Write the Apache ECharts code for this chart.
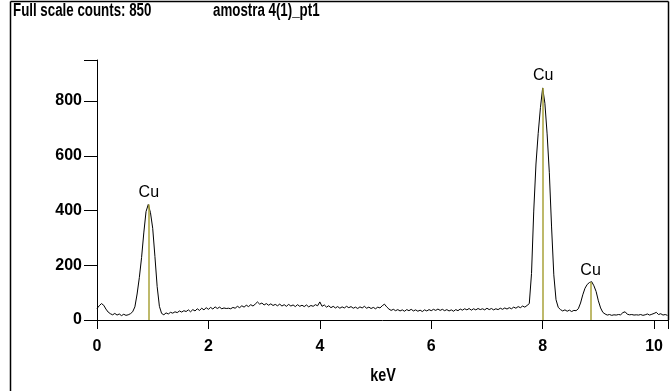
<!DOCTYPE html>
<html>
<head>
<meta charset="utf-8">
<script src="https://cdn.jsdelivr.net/npm/echarts@6/dist/echarts.min.js"></script>
<style>
  html, body { margin: 0; padding: 0; background: #fff; }
  #chart { width: 671px; height: 391px; }
</style>
</head>
<body>
<div id="chart"></div>
<script>
// spectrum counts, one channel every 0.04 keV starting at 0
const channelStep = 0.04;
const counts = [
  42, 52, 60, 54, 40, 29, 23, 19, 24, 18, 22, 16, 21, 17, 19, 23,
  30, 48, 95, 155, 228, 318, 396, 422, 392, 335, 232, 122, 50, 24,
  19, 26, 22, 28, 25, 30, 27, 33, 29, 34, 31, 37, 30, 38, 33, 41,
  35, 43, 37, 45, 39, 46, 40, 48, 42, 47, 41, 44, 42, 43, 41, 46,
  43, 50, 45, 52, 47, 54, 49, 56, 51, 58, 66, 58, 62, 55, 60, 54,
  59, 53, 57, 52, 58, 51, 56, 50, 57, 51, 55, 49, 56, 50, 54, 49,
  55, 48, 53, 50, 56, 52, 66, 50, 55, 47, 52, 45, 50, 44, 49, 43,
  48, 44, 50, 45, 49, 43, 47, 42, 48, 44, 50, 43, 47, 42, 46, 41,
  47, 44, 52, 58, 48, 40, 35, 39, 34, 38, 33, 37, 32, 38, 34, 39,
  33, 37, 32, 36, 31, 37, 33, 38, 34, 39, 35, 40, 35, 39, 34, 38,
  33, 37, 32, 38, 34, 40, 36, 41, 37, 42, 36, 41, 37, 42, 38, 41,
  37, 43, 38, 42, 37, 41, 38, 43, 39, 44, 40, 45, 41, 47, 43, 49,
  45, 51, 47, 53, 60, 170, 398, 570, 682, 776, 848, 792, 680, 538, 340, 165,
  74, 46, 38, 33, 37, 32, 36, 31, 35, 34, 41, 62, 92, 116, 130, 137,
  140, 125, 104, 70, 44, 28, 22, 18, 20, 17, 19, 18, 20, 19, 27, 30,
  21, 19, 20, 18, 19, 18, 20, 17, 19, 22, 18, 21, 24, 28, 20, 23,
  18, 20, 17
];

// identified lines
const lineNames = ["Cu", "Cu", "Cu"];
const lineKeV = [0.93, 8.01, 8.86];
const lineTop = [422, 848, 138];

const yTicks = [0, 200, 400, 600, 800];
const xTicks = [0, 2, 4, 6, 8, 10];

const sans = "'Liberation Sans', Arial, sans-serif";

const chart = echarts.init(document.getElementById("chart"), null, { renderer: "canvas" });

const spectrum = counts.map((c, i) => [+(i * channelStep).toFixed(2), c]);

const option = {
  backgroundColor: "#fff",
  animation: false,
  grid: { left: 97, right: 0, top: 60, bottom: 71 },
  xAxis: {
    type: "value",
    min: 0,
    max: 10.25,
    interval: 2,
    axisLine: { lineStyle: { color: "#000", width: 1 } },
    axisTick: { length: 9, lineStyle: { color: "#000" } },
    splitLine: { show: false },
    axisLabel: {
      color: "#000",
      fontFamily: sans,
      fontWeight: "bold",
      fontSize: 16,
      margin: 19,
      formatter: (v) => (xTicks.includes(v) ? String(v) : "")
    }
  },
  yAxis: {
    type: "value",
    min: 0,
    max: 950,
    interval: 200,
    axisLine: { show: true, lineStyle: { color: "#000", width: 1 } },
    axisTick: { show: true, length: 13, lineStyle: { color: "#000" } },
    splitLine: { show: false },
    axisLabel: {
      color: "#000",
      fontFamily: sans,
      fontWeight: "bold",
      fontSize: 16,
      margin: 15,
      formatter: (v) => (yTicks.includes(v) ? String(v) : "")
    }
  },
  graphic: [
    { type: "line", shape: { x1: 10.5, y1: 1.5, x2: 668.5, y2: 1.5 }, style: { stroke: "#000", lineWidth: 1.5 } },
    { type: "line", shape: { x1: 10.5, y1: 1.5, x2: 10.5, y2: 391 }, style: { stroke: "#000", lineWidth: 1.5 } },
    { type: "line", shape: { x1: 668.5, y1: 1.5, x2: 668.5, y2: 320 }, style: { stroke: "#000", lineWidth: 1.5 } },
    {
      type: "text", x: 13, y: 2, scaleX: 0.74,
      style: { text: "Full scale counts: 850", fill: "#000", font: "bold 18px " + sans }
    },
    {
      type: "text", x: 213, y: 2, scaleX: 0.74,
      style: { text: "amostra 4(1)_pt1", fill: "#000", font: "bold 18px " + sans }
    },
    {
      type: "text", x: 383, y: 376, scaleX: 0.8,
      style: { text: "keV", fill: "#000", font: "bold 18px " + sans, align: "center", verticalAlign: "middle" }
    }
  ],
  series: [
    {
      type: "line",
      data: spectrum,
      showSymbol: false,
      symbol: "none",
      lineStyle: { color: "#000", width: 1 },
      z: 3,
      markLine: {
        silent: true,
        symbol: ["none", "none"],
        lineStyle: { color: "#a8a23a", width: 1.5, type: "solid" },
        label: {
          show: true,
          position: "end",
          distance: 4,
          color: "#000",
          fontFamily: sans,
          fontSize: 16,
          formatter: (p) => p.name
        },
        data: lineKeV.map((k, i) => [
          { name: lineNames[i], coord: [k, 0] },
          { coord: [k, lineTop[i]] }
        ])
      }
    }
  ]
};

chart.setOption(option);
</script>
</body>
</html>
